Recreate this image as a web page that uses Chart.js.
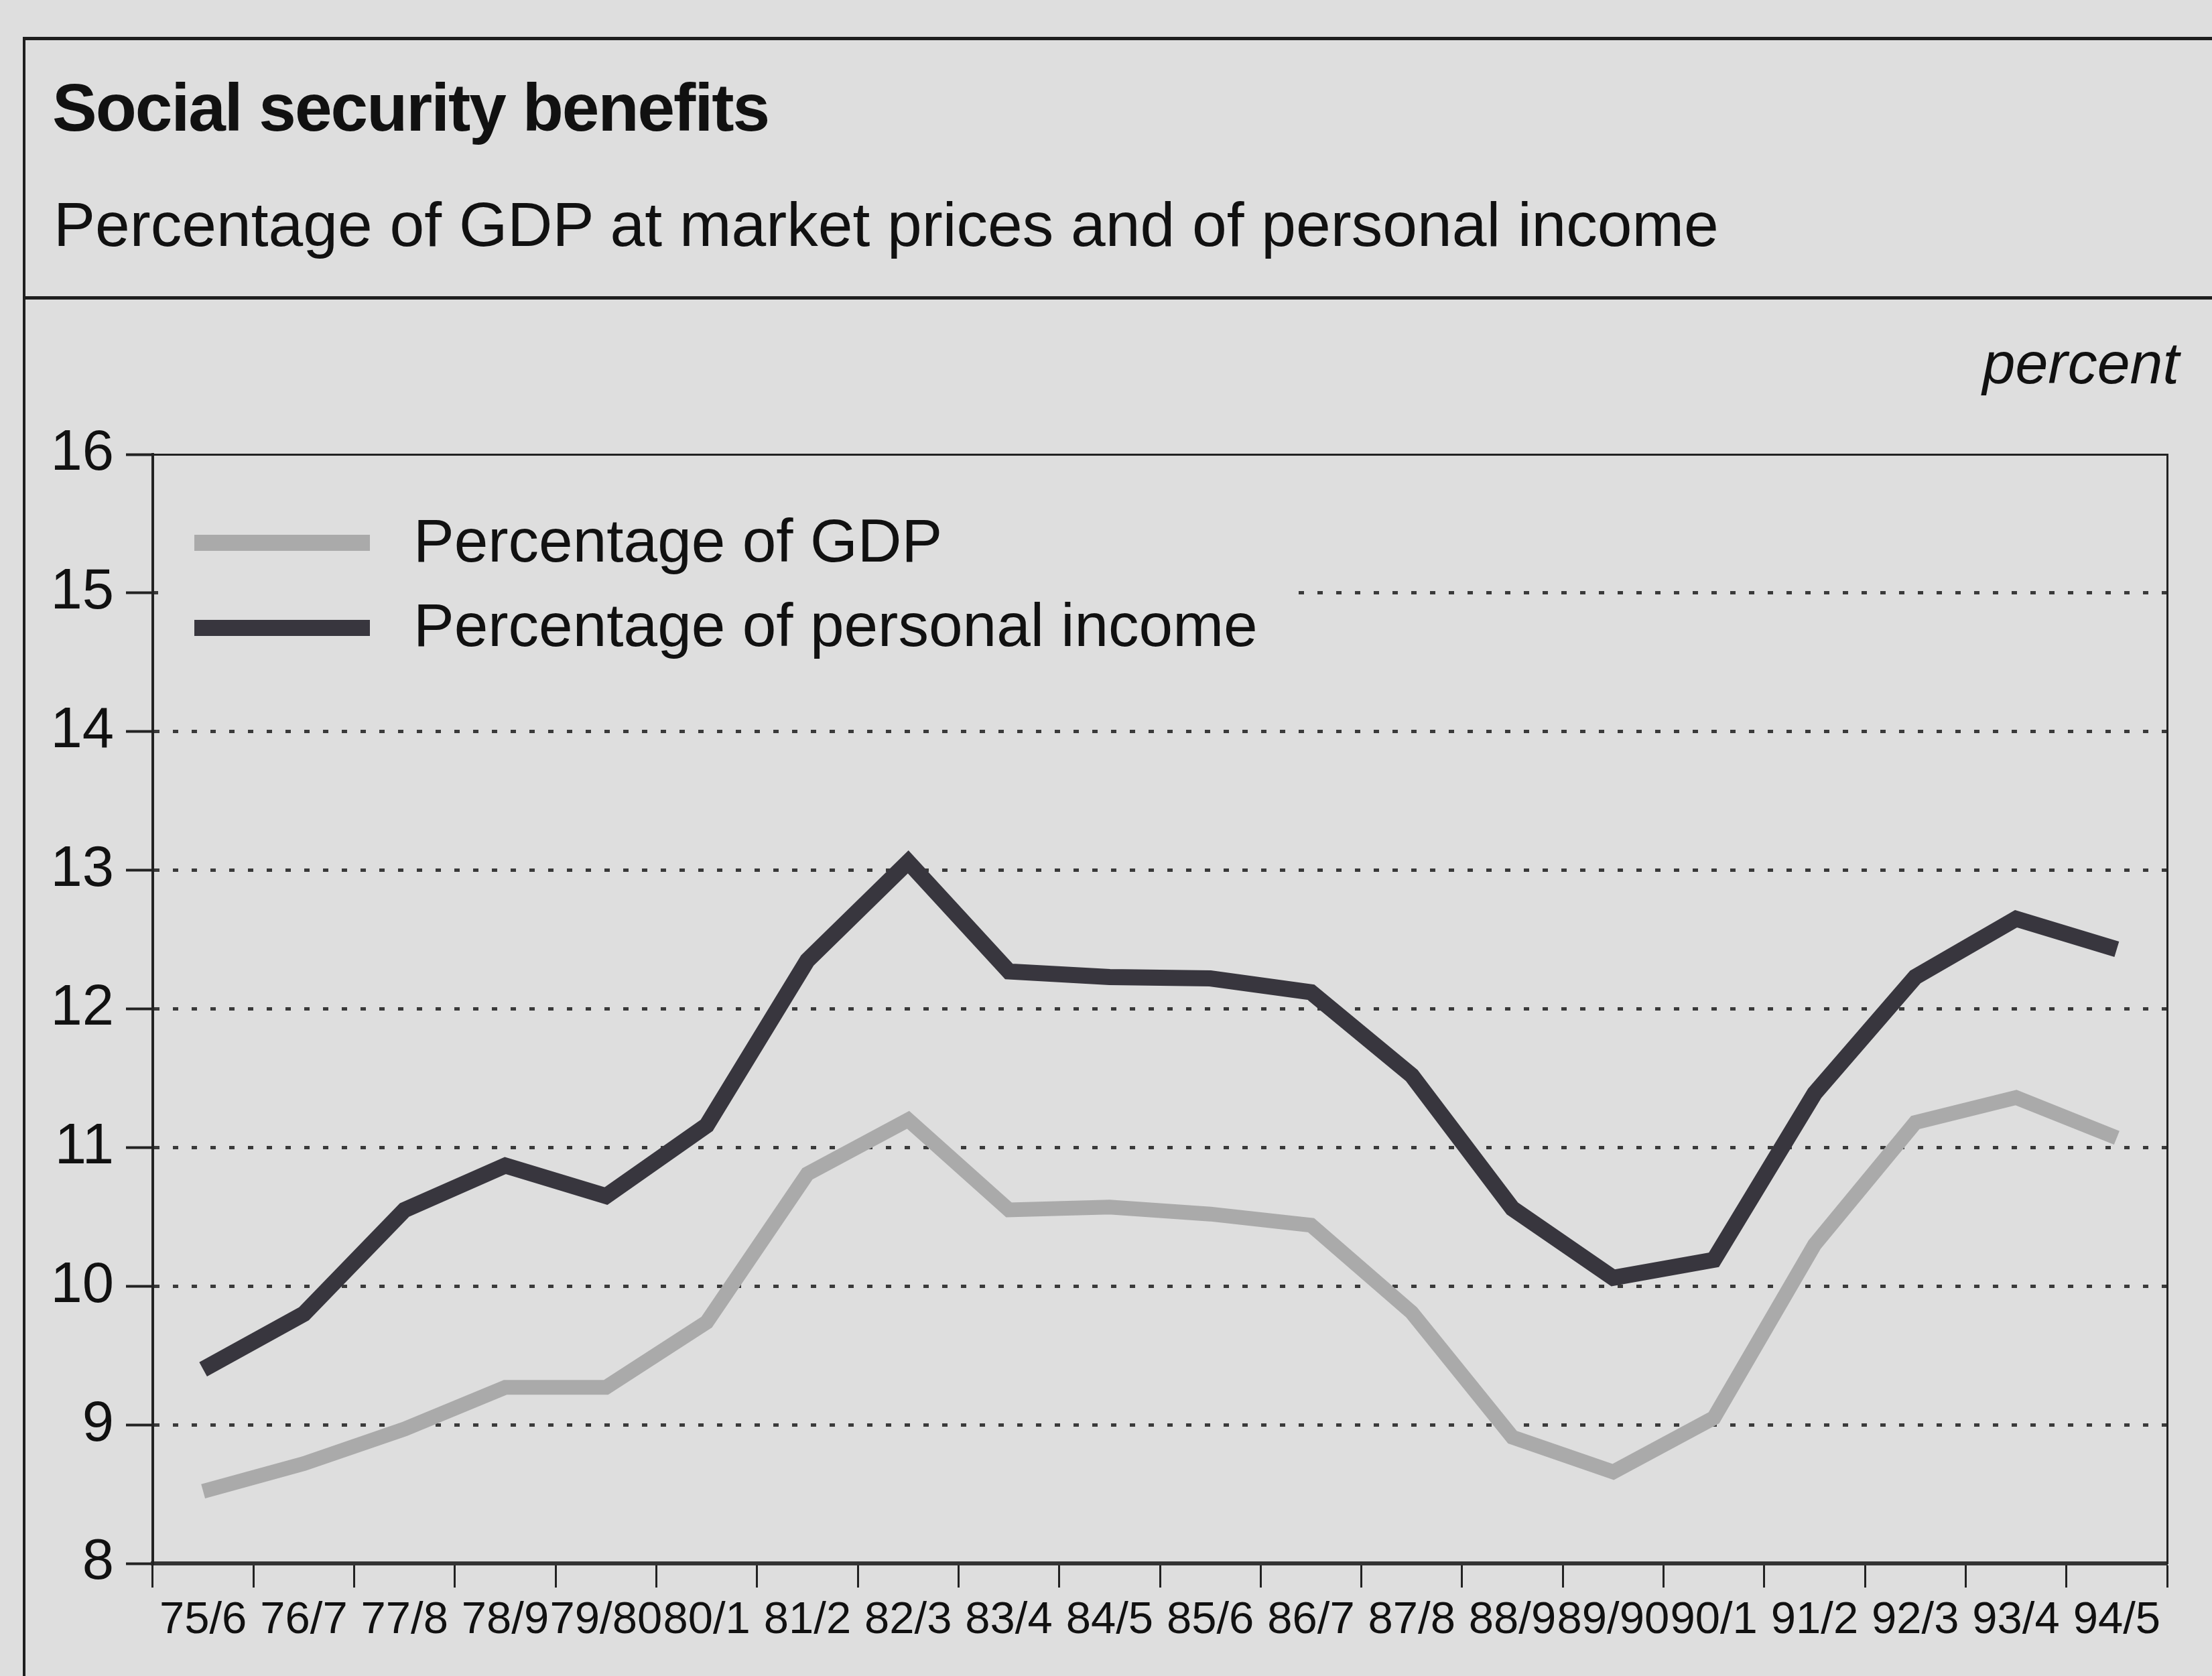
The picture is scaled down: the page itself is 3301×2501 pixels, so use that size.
<!DOCTYPE html>
<html>
<head>
<meta charset="utf-8">
<title>Social security benefits</title>
<script src="https://cdn.jsdelivr.net/npm/chart.js@4.4.0/dist/chart.umd.min.js"></script>
<style>
  html, body { margin: 0; padding: 0; background: #dedede; }
  body {
    width: 3301px; height: 2501px; position: relative; overflow: hidden;
    font-family: 'Liberation Sans', Arial, Helvetica, sans-serif; color: #111;
  }
  .abs { position: absolute; white-space: nowrap; line-height: 1; }
  #chartBox { position: absolute; left: 0; top: 0; width: 3301px; height: 2501px; }
  #frameTop { left: 34px; top: 55px; width: 3267px; height: 5px; background: #1e1e1e; }
  #frameMid { left: 34px; top: 442px; width: 3267px; height: 5px; background: #1e1e1e; }
  #frameLeft { left: 34px; top: 55px; width: 4px; height: 2446px; background: #1e1e1e; }
  #title { left: 78px; top: 110px; font-size: 100px; font-weight: bold; letter-spacing: -2px; }
  #subtitle { left: 80px; top: 289px; font-size: 93px; }
  #unit { right: 49px; top: 498px; font-size: 88px; font-style: italic; }
  #legend { left: 236px; top: 740px; width: 1692px; height: 250px; background: #dedede; }
  .swatch { position: absolute; width: 262px; height: 24px; }
  .legText { position: absolute; font-size: 91px; line-height: 1; white-space: nowrap; }
</style>
</head>
<body>
<div id="chartBox"><canvas id="benefitsChart" width="3301" height="2501"></canvas></div>

<div class="abs" id="frameTop"></div>
<div class="abs" id="frameMid"></div>
<div class="abs" id="frameLeft"></div>
<div class="abs" id="title">Social security benefits</div>
<div class="abs" id="subtitle">Percentage of GDP at market prices and of personal income</div>
<div class="abs" id="unit">percent</div>

<div class="abs" id="legend">
  <div class="swatch" style="left:54px; top:58px; background:#aaaaaa;"></div>
  <div class="legText" style="left:381px; top:21px;">Percentage of GDP</div>
  <div class="swatch" style="left:54px; top:185px; background:#38363e;"></div>
  <div class="legText" style="left:381px; top:147px;">Percentage of personal income</div>
</div>

<script>
const categories = ['75/6', '76/7', '77/8', '78/9', '79/80', '80/1', '81/2', '82/3', '83/4', '84/5',
  '85/6', '86/7', '87/8', '88/9', '89/90', '90/1', '91/2', '92/3', '93/4', '94/5']

// percentage of GDP at market prices
const gdpShare = [8.52, 8.72, 8.97, 9.27, 9.27, 9.74, 10.81, 11.2, 10.55, 10.57,
  10.52, 10.44, 9.81, 8.91, 8.66, 9.05, 10.3, 11.18, 11.36, 11.07]

// percentage of personal income
const incomeShare = [9.4, 9.8, 10.55, 10.87, 10.65, 11.16, 12.35, 13.06, 12.27, 12.23,
  12.22, 12.12, 11.52, 10.56, 10.06, 10.19, 11.39, 12.23, 12.65, 12.43]

const yMin = 8
const yMax = 16

const family = "'Liberation Sans', Arial, Helvetica, sans-serif"
Chart.defaults.font.family = family
Chart.defaults.color = '#111'

const data = {
  labels: categories,
  datasets: [
    {
      label: 'Percentage of GDP',
      data: gdpShare,
      borderColor: '#aaaaaa',
      borderWidth: 22,
      pointRadius: 0,
      tension: 0,
      borderJoinStyle: 'miter',
      borderCapStyle: 'butt',
    },
    {
      label: 'Percentage of personal income',
      data: incomeShare,
      borderColor: '#38363e',
      borderWidth: 24,
      pointRadius: 0,
      tension: 0,
      borderJoinStyle: 'miter',
      borderCapStyle: 'butt',
    },
  ],
}

const config = {
  type: 'line',
  data: data,
  options: {
    responsive: false,
    animation: false,
    layout: { padding: { left: 0, top: 678, right: 67, bottom: 0 } },
    plugins: { legend: { display: false }, tooltip: { enabled: false } },
    scales: {
      x: {
        offset: true,
        grid: {
          offset: true,
          drawOnChartArea: false,
          drawTicks: true,
          tickLength: 36,
          tickColor: '#222',
          tickWidth: 3,
        },
        border: { color: '#333', width: 6 },
        ticks: {
          autoSkip: false,
          maxRotation: 0,
          minRotation: 0,
          padding: 9,
          color: '#111',
          font: { size: 67 },
        },
        afterFit: (scale) => { scale.height = 168 },
      },
      y: {
        min: yMin,
        max: yMax,
        ticks: {
          stepSize: 1,
          padding: 18,
          color: '#111',
          font: { size: 85 },
        },
        grid: {
          color: (ctx) => (ctx.tick && ctx.tick.value > yMin && ctx.tick.value < yMax) ? '#3a3a3a' : 'rgba(0,0,0,0)',
          lineWidth: 5,
          drawTicks: true,
          tickLength: 40,
          tickColor: '#222',
          tickWidth: 4,
          tickBorderDash: [],
        },
        border: { display: true, color: '#222', width: 4, dash: [8, 20] },
        afterFit: (scale) => { scale.width = 228 },
      },
      xTop: {
        type: 'linear',
        axis: 'x',
        position: 'top',
        grid: { display: false },
        ticks: { display: false },
        border: { display: true, color: '#222', width: 3 },
        afterFit: (scale) => { scale.height = 0 },
      },
      yRight: {
        type: 'linear',
        axis: 'y',
        position: 'right',
        grid: { display: false },
        ticks: { display: false },
        border: { display: true, color: '#222', width: 3 },
        afterFit: (scale) => { scale.width = 0 },
      },
    },
  },
}

new Chart(document.getElementById('benefitsChart'), config)
</script>
</body>
</html>
